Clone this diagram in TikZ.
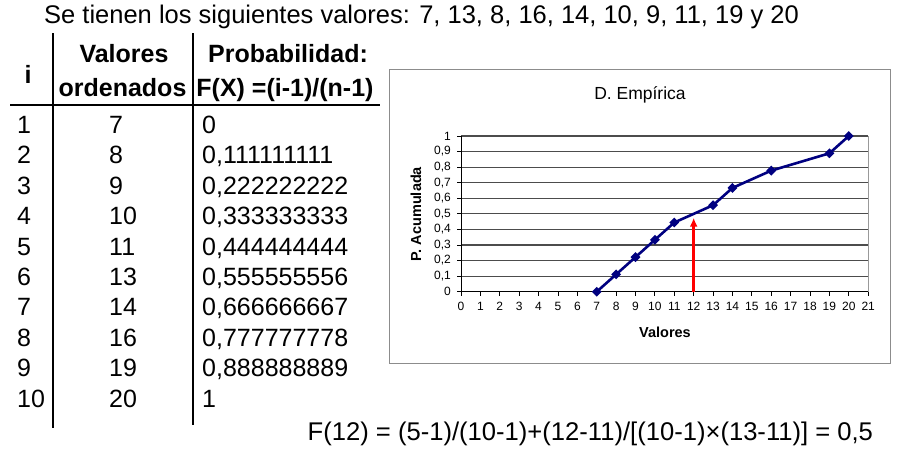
\documentclass[tikz,border=0pt]{standalone}
\usepackage{fontspec}
\setmainfont{Liberation Sans}
\usetikzlibrary{arrows.meta, shapes}

\definecolor{navy}{RGB}{0,0,128}

\begin{document}
\begin{tikzpicture}[x=1pt, y=-1pt]

	\tikzstyle{cell}=[inner sep=0pt, font=\fontsize{25}{29}\selectfont]
	\tikzstyle{head}=[inner sep=0pt, font=\bfseries\fontsize{25}{29}\selectfont]
	\tikzstyle{rule}=[line width=2.8pt, black]
	\tikzstyle{tick}=[inner sep=0pt, font=\fontsize{12}{14}\selectfont]
	\tikzstyle{axislabel}=[inner sep=0pt, font=\bfseries\fontsize{14.5}{17}\selectfont]
	\tikzstyle{dmark}=[diamond, fill=navy, inner sep=0pt, minimum size=10pt]

	\fill[white] (0,0) rectangle (897,456);

	% Statement
	\node[cell, anchor=base west, font=\fontsize{25.5}{30}\selectfont] (enunciado) at (44,23) {Se tienen los siguientes valores: 7, 13, 8, 16, 14, 10, 9, 11, 19 y 20};

	% Table header
	\node[head, anchor=base] (hi) at (28,83) {i};
	\node[head, anchor=base] (hval1) at (124,62.5) {Valores};
	\node[head, anchor=base] (hval2) at (122.5,96) {ordenados};
	\node[head, anchor=base] (hprob1) at (288,62.5) {Probabilidad:};
	\node[head, anchor=base] (hprob2) at (285,96) {F(X) =(i-1)/(n-1)};

	% Table rules
	\draw[rule] (10,105) -- (380,105);
	\draw[rule] (53,33) -- (53,428);
	\draw[rule] (193,33) -- (193,425);

	% Table rows
	\foreach \i/\v/\p in {1/7/0, 2/8/0{,}111111111, 3/9/0{,}222222222, 4/10/0{,}333333333, 5/11/0{,}444444444, 6/13/0{,}555555556, 7/14/0{,}666666667, 8/16/0{,}777777778, 9/19/0{,}888888889, 10/20/1}{
		\node[cell, anchor=base west] (i\i) at (17,{133.5+30.4*(\i-1)}) {\i};
		\node[cell, anchor=base west] (v\i) at (109,{133.5+30.4*(\i-1)}) {\v};
		\node[cell, anchor=base west] (fx\i) at (202,{133.5+30.4*(\i-1)}) {\p};
	}

	% Chart
	\draw[black!45, thin] (389.5,69) rectangle (890.5,363);
	\node[inner sep=0pt, anchor=base, font=\fontsize{17.5}{20}\selectfont] (titulo) at (640,99.5) {D. Empírica};
	\node[axislabel, rotate=90] (ylab) at (416,214) {P. Acumulada};
	\node[axislabel] (xlab) at (665,332.7) {Valores};

	\begin{scope}[shift={(461pt,-291.7pt)}, x=19.39pt, y=155.7pt]
		% grid
		\foreach \k in {1,...,10}
			\draw[black!70, line width=1.1pt] (0,\k/10) -- (21,\k/10);
		\draw[black!40] (21,0) -- (21,1);
		\draw[black, line width=0.9pt] (0,1) -- (0,0) -- (21,0);
		% ticks
		\foreach \x in {0,...,21}{
			\draw[black, line width=0.9pt] (\x,0) -- ++(0,-4.5pt);
			\node[tick] (xt\x) at ([yshift=-15pt]\x,0) {\x};
		}
		\foreach \k in {0,...,10}{
			\draw[black, line width=0.9pt] (0,\k/10) -- ++(-4.5pt,0);
			\node[tick, anchor=east] (yt\k) at ([xshift=-10pt]0,\k/10) {\ifnum\k=0 0\else\ifnum\k=10 1\else 0,\k\fi\fi};
		}
		% empirical distribution
		\foreach \x [count=\i] in {7,8,9,10,11,13,14,16,19,20}
			\coordinate (pt\i) at (\x,{(\i-1)/9});
		\draw[navy, line width=2.6pt] (pt1) \foreach \i in {2,...,10}{ -- (pt\i)};
		\foreach \i in {1,...,10}
			\node[dmark] (m\i) at (pt\i) {};
		% F(12)
		\coordinate (base12) at (12,0);
		\coordinate (punta12) at (12,0.475);
		\draw[-{Latex[length=9pt, width=8pt]}, red, line width=3pt] (base12) -- (punta12);
	\end{scope}

	% Interpolation
	\node[cell, anchor=base west, font=\fontsize{25.6}{30}\selectfont] (formula) at (307.5,440) {F(12) = (5-1)/(10-1)+(12-11)/[(10-1)×(13-11)] = 0,5};

\end{tikzpicture}
\end{document}
